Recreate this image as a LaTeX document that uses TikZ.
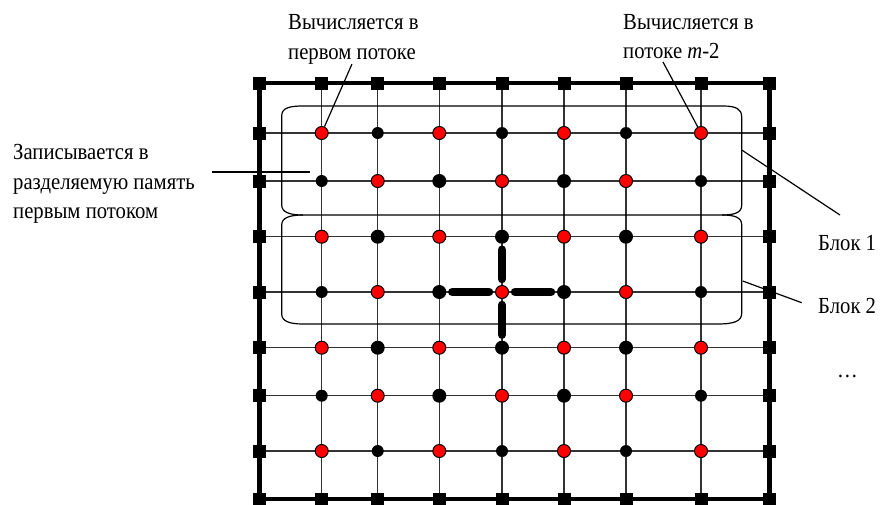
\documentclass[tikz,border=0pt]{standalone}
\usepackage{fontspec}
\setmainfont{Liberation Serif}[FakeStretch=0.9]
\usetikzlibrary{calc}

\tikzset{
  gridline/.style={line width=1.1pt, draw=black!80},
  frame/.style={line width=4.5pt, draw=black},
  blockline/.style={line width=1.2pt, draw=black},
  leader/.style={line width=1.2pt, draw=black},
  reddot/.style={circle, fill=red, draw=black, line width=1pt, minimum size=13pt, inner sep=0pt},
  bigdot/.style={circle, fill=black, minimum size=14pt, inner sep=0pt},
  smalldot/.style={circle, fill=black, minimum size=12pt, inner sep=0pt},
  edgebox/.style={rectangle, fill=black, minimum size=13pt, inner sep=0pt},
  crossbar/.style={line width=8.5pt, line cap=round, shorten >=13pt, shorten <=13pt},
  lbl/.style={inner sep=0pt, anchor=base west, font=\fontsize{23}{30}\selectfont},
}

\begin{document}
\begin{tikzpicture}[x=1pt, y=-1pt]
\useasboundingbox (0,0) rectangle (880,504);

% grid points: columns i = 0..8, rows j = 0..8
\foreach \x [count=\i from 0] in {259.5,321.7,377.7,439.3,502,564,626,701,769.3}{
  \foreach \y [count=\j from 0] in {83,133,181,236.7,292,347.7,395.7,451,499}{
    \coordinate (p-\i-\j) at (\x,\y);
  }
}

% thin grid lines
\foreach \k in {1,...,7}{
  \draw[gridline] (p-\k-0) -- (p-\k-8);
  \draw[gridline] (p-0-\k) -- (p-8-\k);
}

% block outlines (Блок 1 above, Блок 2 below, sharing the middle edge)
\draw[blockline] (281.7,205) -- (281.7,116)
  .. controls (281.7,108) and (289,106) .. (303,106) -- (723,106)
  .. controls (736,106) and (741.7,109) .. (741.7,117) -- (741.7,205)
  .. controls (741.7,212) and (736,215) .. (722,215) -- (303,215)
  .. controls (289,215) and (281.7,212) .. (281.7,205);
\draw[blockline] (303,215)
  .. controls (289,215) and (281.7,218) .. (281.7,225) -- (281.7,314)
  .. controls (281.7,321) and (289,324) .. (303,324) -- (717,324)
  .. controls (735,324) and (741.7,321) .. (741.7,313) -- (741.7,225)
  .. controls (741.7,218) and (736,215) .. (722,215);

% outer boundary
\draw[frame] (p-0-0) rectangle (p-8-8);

% boundary nodes
\foreach \k in {0,...,8}{
  \node[edgebox] (s-\k-0) at (p-\k-0) {};
  \node[edgebox] (s-\k-8) at (p-\k-8) {};
  \node[edgebox] (s-0-\k) at (p-0-\k) {};
  \node[edgebox] (s-8-\k) at (p-8-\k) {};
}

% inner nodes: red / black checkerboard
\foreach \i in {1,...,7}{
  \foreach \j in {1,...,7}{
    \pgfmathtruncatemacro{\parity}{mod(\i+\j,2)}
    \pgfmathtruncatemacro{\rim}{(\i==1)||(\i==7)||(\j==1)||(\j==7)}
    \ifnum\parity=0
      \node[reddot] (d-\i-\j) at (p-\i-\j) {};
    \else
      \ifnum\rim=1
        \node[smalldot] (d-\i-\j) at (p-\i-\j) {};
      \else
        \node[bigdot] (d-\i-\j) at (p-\i-\j) {};
      \fi
    \fi
  }
}

% five-point stencil around the central node
\draw[crossbar] (d-4-4.center) -- (d-3-4.center);
\draw[crossbar] (d-4-4.center) -- (d-5-4.center);
\draw[crossbar] (d-4-4.center) -- (d-4-3.center);
\draw[crossbar] (d-4-4.center) -- (d-4-5.center);

% labels
\node[lbl] (t1a) at (288,29) {Вычисляется в};
\node[lbl] (t1b) at (288,59) {первом потоке};
\node[lbl] (t2a) at (623,29) {Вычисляется в};
\node[lbl] (t2b) at (623,58.5) {потоке \textit{m}-2};
\node[lbl] (t3a) at (13,159) {Записывается в};
\node[lbl] (t3b) at (13,189) {разделяемую память};
\node[lbl] (t3c) at (13,218.5) {первым потоком};
\node[lbl] (b1) at (818,250) {Блок 1};
\node[lbl] (b2) at (818,313) {Блок 2};
\node[lbl] (more) at (837,377) {…};

% leader lines
\coordinate (t2tail) at (663,62);
\coordinate (memA) at (212,172);
\coordinate (memB) at (310,172);
\coordinate (blk1a) at (741.7,150);
\coordinate (blk1b) at (840,215);
\coordinate (blk2a) at (742.7,281);
\coordinate (blk2b) at (801.7,302.7);

\draw[leader] (t1b.south) -- (d-1-1);
\draw[leader] (t2tail) -- (d-7-1);
\draw[leader] (memA) -- (memB);
\draw[leader] (blk1a) -- (blk1b);
\draw[leader] (blk2a) -- (blk2b);
\end{tikzpicture}
\end{document}
